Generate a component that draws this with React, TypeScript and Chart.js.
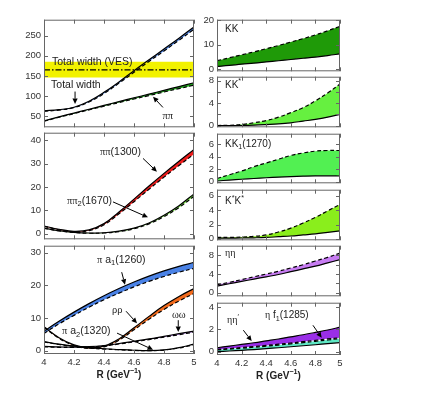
import React, { useEffect, useRef } from "react";
import { Chart, registerables } from "chart.js";
Chart.register(...registerables);

// ---------------- data ----------------
const R = [4, 4.1, 4.2, 4.3, 4.4, 4.5, 4.6, 4.7, 4.8, 4.9, 5];
const X_TICKS = [4, 4.2, 4.4, 4.6, 4.8, 5];

// left column, panel 1 (MeV)
const VES = [146, 165, 185]; // low, central, high
const totalHi = [63, 66, 72, 87, 109, 135, 163, 190, 217, 244, 272];
const totalLo = [62, 65, 71, 85, 106, 132, 159, 186, 212, 239, 266];
const pipiHi = [38, 48, 57.5, 67, 76.5, 86, 95.5, 104.5, 114, 123.5, 133];
const pipiLo = [37, 47, 56, 65.5, 74.5, 83.5, 92.5, 101, 110, 118.5, 127];

// panel 2
const pi1300Hi = [3.3, 1.9, 1.0, 1.6, 4.3, 9.3, 14.8, 20.4, 25.8, 31.0, 36.0];
const pi1300Lo = [3.1, 1.7, 0.8, 1.3, 3.8, 8.5, 13.7, 19.0, 24.2, 29.2, 34.0];
const pi2Hi = [2.4, 1.3, 0.6, 0.3, 0.4, 1.1, 2.4, 4.6, 7.9, 12.0, 17.0];
const pi2Lo = [2.3, 1.2, 0.5, 0.2, 0.3, 0.9, 2.1, 4.2, 7.3, 11.2, 16.0];

// panel 3
const a1Hi = [6.0, 9.0, 11.8, 14.4, 16.8, 19.0, 21.0, 22.8, 24.4, 25.8, 27.0];
const a1Lo = [5.3, 8.2, 10.8, 13.3, 15.6, 17.6, 19.5, 21.2, 22.7, 24.0, 25.2];
const rhoHi = [7.3, 4.0, 1.8, 0.9, 1.4, 3.6, 7.0, 10.5, 13.8, 16.6, 19.0];
const rhoLo = [7.1, 3.8, 1.6, 0.7, 1.2, 3.2, 6.4, 9.6, 12.6, 15.2, 17.5];
const omHi = [1.3, 1.15, 1.1, 1.25, 1.6, 2.2, 2.9, 3.6, 4.4, 5.2, 6.0];
const omLo = [1.2, 1.05, 1.0, 1.15, 1.5, 2.05, 2.7, 3.4, 4.15, 4.9, 5.7];
const a2Hi = [2.8, 2.0, 1.4, 0.95, 0.6, 0.35, 0.15, 0.05, 0.25, 0.95, 2.0];
const a2Lo = [2.7, 1.9, 1.3, 0.85, 0.5, 0.3, 0.1, 0.02, 0.2, 0.85, 1.8];

// right column
const kkHi = [3.5, 4.7, 5.9, 7.1, 8.4, 9.7, 11.1, 12.5, 14.0, 15.7, 17.5];
const kkLo = [1.2, 1.6, 2.1, 2.5, 3.0, 3.5, 4.0, 4.5, 5.0, 5.6, 6.3];
const kkstHi = [0.02, 0.05, 0.2, 0.5, 0.9, 1.5, 2.3, 3.2, 4.4, 5.8, 7.4];
const kkstLo = [0, 0, 0.02, 0.08, 0.18, 0.3, 0.5, 0.8, 1.1, 1.5, 2.0];
const kk1Hi = [0.5, 1.1, 1.7, 2.4, 3.0, 3.6, 4.2, 4.6, 4.9, 5.0, 5.0];
const kk1Lo = [0.1, 0.25, 0.38, 0.5, 0.62, 0.72, 0.8, 0.87, 0.92, 0.93, 0.9];
const kstkstHi = [0.2, 0.2, 0.25, 0.35, 0.55, 0.95, 1.5, 2.2, 3.0, 3.9, 4.8];
const kstkstLo = [0.1, 0.1, 0.12, 0.15, 0.2, 0.3, 0.4, 0.55, 0.7, 0.9, 1.1];
const etaetaHi = [1.7, 2.2, 2.8, 3.4, 4.0, 4.6, 5.3, 6.0, 6.8, 7.6, 8.5];
const etaetaLo = [1.4, 1.9, 2.4, 2.9, 3.4, 3.9, 4.5, 5.1, 5.7, 6.4, 7.1];
const etapHi = [0.35, 0.5, 0.65, 0.8, 0.97, 1.14, 1.33, 1.52, 1.73, 1.95, 2.2];
const etapLo = [0.2, 0.28, 0.37, 0.46, 0.56, 0.67, 0.78, 0.9, 1.02, 1.15, 1.25];
const ef1Hi = [0.15, 0.23, 0.31, 0.4, 0.49, 0.59, 0.7, 0.81, 0.93, 1.05, 1.18];
const ef1Lo = [0.0, 0.06, 0.12, 0.19, 0.27, 0.35, 0.44, 0.53, 0.62, 0.72, 0.82];

// ---------------- styling / layout ----------------
const SANS = '"Liberation Sans", Arial, sans-serif';
const SERIF = '"Liberation Serif", "Times New Roman", serif';
const DASH = [4, 2.5];

type Seg = { t: string; s?: "sub" | "sup"; serif?: boolean; bold?: boolean };
type Note = { x: number; y: number; segs: Seg[] };
type Arrow = [number, number, number, number];
type Band = { hi: number[]; lo: number[]; color: string; hiDash: boolean; loDash: boolean };
type Panel = {
  id: string;
  left: number; top: number; w: number; h: number; yW: number;
  yMin: number; yMax: number; yTicks: number[];
  bands: Band[]; ves?: boolean; bottom?: boolean;
  notes: Note[]; arrows: Arrow[]; fs: number;
};

const X_TITLE: Seg[] = [{ t: "R (GeV", bold: true }, { t: "−1", s: "sup", bold: true }, { t: ")", bold: true }];

const L = (hi: number[], lo: number[], color: string): Band => ({ hi, lo, color, hiDash: false, loDash: true });
const Rt = (hi: number[], lo: number[], color: string): Band => ({ hi, lo, color, hiDash: true, loDash: false });

const PANELS: Panel[] = [
  {
    id: "p1", left: 44, top: 19, w: 150, h: 109, yW: 44, yMin: 22, yMax: 290, yTicks: [50, 100, 150, 200, 250],
    ves: true, fs: 10.5,
    bands: [L(totalHi, totalLo, "#4a82e6"), L(pipiHi, pipiLo, "#22a81e")],
    notes: [
      { x: 4.053, y: 185, segs: [{ t: "Total width (VES)" }] },
      { x: 4.047, y: 126, segs: [{ t: "Total width" }] },
      { x: 4.79, y: 50, segs: [{ t: "ππ", serif: true }] },
    ],
    arrows: [[4.207, 111, 4.207, 80], [4.793, 71.5, 4.727, 98]],
  },
  {
    id: "p2", left: 44, top: 132, w: 150, h: 108, yW: 44, yMin: -2.4, yMax: 43.2, yTicks: [0, 10, 20, 30, 40],
    fs: 10.5,
    bands: [L(pi1300Hi, pi1300Lo, "#ee1c1c"), L(pi2Hi, pi2Lo, "#7ee84a")],
    notes: [
      { x: 4.373, y: 34.9, segs: [{ t: "ππ", serif: true }, { t: "(1300)" }] },
      { x: 4.153, y: 14.05, segs: [{ t: "ππ", serif: true }, { t: "2", s: "sub" }, { t: "(1670)" }] },
    ],
    arrows: [[4.66, 32.2, 4.753, 26.5], [4.46, 13.6, 4.693, 7.0]],
  },
  {
    id: "p3", left: 44, top: 245, w: 150, h: 109, yW: 44, yMin: -1, yMax: 32.1, yTicks: [0, 10, 20, 30],
    fs: 10.5, bottom: true,
    bands: [
      L(a1Hi, a1Lo, "#4a82e6"), L(rhoHi, rhoLo, "#f26a1c"), L(omHi, omLo, "#b27ae6"), L(a2Hi, a2Lo, "#999999"),
    ],
    notes: [
      { x: 4.353, y: 27.8, segs: [{ t: "π", serif: true }, { t: " a" }, { t: "1", s: "sub" }, { t: "(1260)" }] },
      { x: 4.453, y: 12.4, segs: [{ t: "ρρ", serif: true }] },
      { x: 4.853, y: 10.85, segs: [{ t: "ωω", serif: true }] },
      { x: 4.12, y: 6.0, segs: [{ t: "π", serif: true }, { t: " a" }, { t: "2", s: "sub" }, { t: "(1320)" }] },
    ],
    arrows: [[4.518, 24.0, 4.54, 20.2], [4.547, 12.07, 4.62, 8.4], [4.895, 9.33, 4.895, 5.7], [4.487, 5.38, 4.727, 0.3]],
  },
  {
    id: "r1", left: 217, top: 19, w: 123, h: 53, yW: 17, yMin: -0.8, yMax: 20.2, yTicks: [0, 10, 20],
    fs: 10, bands: [Rt(kkHi, kkLo, "#1f9a08")],
    notes: [{ x: 4.065, y: 16.2, segs: [{ t: "KK" }] }], arrows: [],
  },
  {
    id: "r2", left: 217, top: 76, w: 123, h: 52, yW: 17, yMin: -0.3, yMax: 8.7, yTicks: [0, 2, 4, 6, 8],
    fs: 10, bands: [Rt(kkstHi, kkstLo, "#66f040")],
    notes: [{ x: 4.065, y: 7.2, segs: [{ t: "KK" }, { t: "*", s: "sup" }] }], arrows: [],
  },
  {
    id: "r3", left: 217, top: 133, w: 123, h: 51, yW: 17, yMin: -0.27, yMax: 7.7, yTicks: [0, 2, 4, 6],
    fs: 10, bands: [Rt(kk1Hi, kk1Lo, "#52f052")],
    notes: [{ x: 4.065, y: 6.0, segs: [{ t: "KK" }, { t: "1", s: "sub" }, { t: "(1270)" }] }], arrows: [],
  },
  {
    id: "r4", left: 217, top: 189, w: 123, h: 52, yW: 17, yMin: -0.2, yMax: 6.85, yTicks: [0, 2, 4, 6],
    fs: 10, bands: [Rt(kstkstHi, kstkstLo, "#8aee1c")],
    notes: [{ x: 4.065, y: 5.2, segs: [{ t: "K" }, { t: "*", s: "sup" }, { t: "K" }, { t: "*", s: "sup" }] }], arrows: [],
  },
  {
    id: "r5", left: 217, top: 245, w: 123, h: 52, yW: 17, yMin: -0.8, yMax: 10.1, yTicks: [0, 2, 4, 6, 8],
    fs: 10, bands: [Rt(etaetaHi, etaetaLo, "#c77cf2")],
    notes: [{ x: 4.065, y: 8.35, segs: [{ t: "ηη", serif: true }] }], arrows: [],
  },
  {
    id: "r6", left: 217, top: 302, w: 123, h: 53, yW: 17, yMin: -0.3, yMax: 4.4, yTicks: [0, 2, 4],
    fs: 10, bottom: true,
    bands: [L(etapHi, etapLo, "#9a2ee8"), Rt(ef1Hi, ef1Lo, "#5ee8c4")],
    notes: [
      { x: 4.081, y: 2.8, segs: [{ t: "ηη", serif: true }, { t: "′", s: "sup" }] },
      { x: 4.39, y: 3.26, segs: [{ t: "η", serif: true }, { t: " f" }, { t: "1", s: "sub" }, { t: "(1285)" }] },
    ],
    arrows: [[4.214, 1.93, 4.282, 0.95], [4.78, 2.37, 4.851, 1.25]],
  },
];

const PAD = 8;
const PADR = 6;
const XH = 30;

function segFont(s: Seg, size: number) {
  const fsz = s.s ? size * 0.72 : size;
  return `${s.bold ? "bold " : ""}${fsz}px ${s.serif ? SERIF : SANS}`;
}

function richWidth(ctx: CanvasRenderingContext2D, segs: Seg[], size: number) {
  let w = 0;
  for (const s of segs) {
    ctx.font = segFont(s, size);
    w += ctx.measureText(s.t).width;
  }
  return w;
}

function drawRich(ctx: CanvasRenderingContext2D, x: number, y: number, segs: Seg[], size: number) {
  let cx = x;
  ctx.textBaseline = "middle";
  ctx.textAlign = "left";
  for (const s of segs) {
    ctx.font = segFont(s, size);
    const dy = s.s === "sub" ? size * 0.32 : s.s === "sup" ? -size * 0.38 : 0;
    ctx.fillText(s.t, cx, y + dy);
    cx += ctx.measureText(s.t).width;
  }
}

function makeDecor(p: Panel) {
  return {
    id: "decor_" + p.id,
    afterDraw(chart: any) {
      const { ctx, chartArea: a, scales } = chart;
      const xs = scales.x, ys = scales.y;
      ctx.save();
      ctx.strokeStyle = "#666";
      ctx.lineWidth = 1;
      ctx.setLineDash([]);
      ctx.strokeRect(a.left + 0.5, a.top + 0.5, a.right - a.left - 1, a.bottom - a.top - 1);
      ctx.beginPath();
      for (const v of X_TICKS) {
        const px = Math.round(xs.getPixelForValue(v)) + 0.5;
        ctx.moveTo(px, a.top); ctx.lineTo(px, a.top + 4);
        ctx.moveTo(px, a.bottom); ctx.lineTo(px, a.bottom - 4);
      }
      for (const v of p.yTicks) {
        const py = Math.round(ys.getPixelForValue(v)) + 0.5;
        ctx.moveTo(a.left, py); ctx.lineTo(a.left + 4, py);
        ctx.moveTo(a.right, py); ctx.lineTo(a.right - 4, py);
      }
      ctx.stroke();
      // annotations
      ctx.fillStyle = "#222";
      for (const n of p.notes) {
        drawRich(ctx, xs.getPixelForValue(n.x), ys.getPixelForValue(n.y), n.segs, p.fs);
      }
      if (p.bottom) {
        const tw = richWidth(ctx, X_TITLE, 10);
        drawRich(ctx, (a.left + a.right) / 2 - tw / 2, a.bottom + 21, X_TITLE, 10);
      }
      ctx.strokeStyle = "#000";
      ctx.fillStyle = "#000";
      ctx.lineWidth = 1;
      for (const [x1, y1, x2, y2] of p.arrows) {
        const X1 = xs.getPixelForValue(x1), Y1 = ys.getPixelForValue(y1);
        const X2 = xs.getPixelForValue(x2), Y2 = ys.getPixelForValue(y2);
        const ang = Math.atan2(Y2 - Y1, X2 - X1);
        const hl = 5.5, hw = 2.6;
        const bx = X2 - hl * Math.cos(ang), by = Y2 - hl * Math.sin(ang);
        ctx.beginPath();
        ctx.moveTo(X1, Y1); ctx.lineTo(bx, by);
        ctx.stroke();
        ctx.beginPath();
        ctx.moveTo(X2, Y2);
        ctx.lineTo(bx + hw * Math.sin(ang), by - hw * Math.cos(ang));
        ctx.lineTo(bx - hw * Math.sin(ang), by + hw * Math.cos(ang));
        ctx.closePath();
        ctx.fill();
      }
      ctx.restore();
    },
  };
}

function buildDatasets(p: Panel) {
  const ds: any[] = [];
  const pts = (arr: number[]) => R.map((x, i) => ({ x, y: arr[i] }));
  const flat = (v: number) => R.map((x) => ({ x, y: v }));
  if (p.ves) {
    ds.push({ data: flat(VES[0]), borderColor: "rgba(0,0,0,0)", borderWidth: 1, pointRadius: 0, fill: false });
    ds.push({ data: flat(VES[2]), borderColor: "rgba(0,0,0,0)", borderWidth: 1, pointRadius: 0, fill: ds.length - 1, backgroundColor: "#f2f200" });
    ds.push({ data: flat(VES[1]), borderColor: "#000", borderWidth: 1.2, borderDash: [6, 2, 1.5, 2], pointRadius: 0, fill: false });
  }
  for (const b of p.bands) {
    const loIdx = ds.length;
    ds.push({
      data: pts(b.lo), borderColor: "#000", borderWidth: 1.2, borderDash: b.loDash ? DASH : [],
      pointRadius: 0, fill: false, tension: 0.4,
    });
    ds.push({
      data: pts(b.hi), borderColor: "#000", borderWidth: 1.2, borderDash: b.hiDash ? DASH : [],
      pointRadius: 0, fill: loIdx, backgroundColor: b.color, tension: 0.4,
    });
  }
  return ds;
}

function PanelChart({ p }: { p: Panel }) {
  const ref = useRef<HTMLCanvasElement | null>(null);
  const cw = p.yW + p.w + PADR;
  const ch = PAD + p.h + (p.bottom ? XH : PAD);
  useEffect(() => {
    if (!ref.current) return;
    const chart = new Chart(ref.current, {
      type: "line",
      data: { datasets: buildDatasets(p) },
      options: {
        animation: false,
        responsive: false,
        devicePixelRatio: 1,
        layout: { padding: { top: PAD, right: PADR, bottom: p.bottom ? 0 : PAD, left: 0 } },
        plugins: {
          legend: { display: false },
          tooltip: { enabled: false },
          filler: { drawTime: "beforeDatasetsDraw" },
        },
        scales: {
          x: {
            type: "linear",
            min: 4,
            max: 5,
            display: !!p.bottom,
            afterBuildTicks: (axis: any) => { axis.ticks = X_TICKS.map((v) => ({ value: v })); },
            afterFit: (s: any) => { s.height = p.bottom ? XH : 0; },
            grid: { display: false, drawTicks: false },
            border: { display: false },
            ticks: {
              font: { family: SANS, size: 9.5 },
              color: "#333",
              padding: 3,
              maxRotation: 0,
              callback: (v: any) => String(Number(Number(v).toFixed(1))),
            },
            title: { display: false },
          },
          y: {
            type: "linear",
            min: p.yMin,
            max: p.yMax,
            afterBuildTicks: (axis: any) => { axis.ticks = p.yTicks.map((v) => ({ value: v })); },
            afterFit: (s: any) => { s.width = p.yW; },
            grid: { display: false, drawTicks: false },
            border: { display: false },
            ticks: { font: { family: SANS, size: 9.5 }, color: "#333", padding: 3 },
          },
        },
      } as any,
      plugins: [makeDecor(p)],
    });
    return () => chart.destroy();
  }, []);
  return (
    <canvas
      ref={ref}
      width={cw}
      height={ch}
      style={{ position: "absolute", left: p.left - p.yW, top: p.top - PAD, width: cw, height: ch }}
    />
  );
}

export default function App() {
  return (
    <div style={{ position: "absolute", left: 0, top: 0, width: 442, height: 394, background: "#fff" }}>
      {PANELS.map((p) => (
        <PanelChart key={p.id} p={p} />
      ))}
    </div>
  );
}
